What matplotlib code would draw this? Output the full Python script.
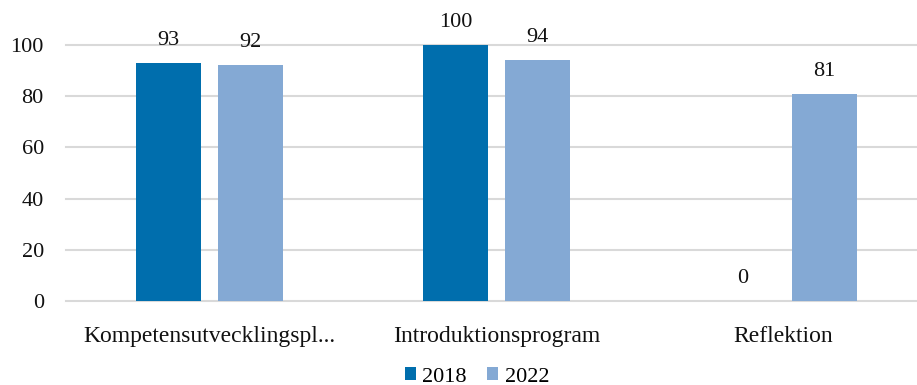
import matplotlib.pyplot as plt
from matplotlib.patches import Patch
import numpy as np

categories = ["Kompetensutvecklingspl...", "Introduktionsprogram", "Reflektion"]
years = ["2018", "2022"]
values_2018 = [93, 100, 0]
values_2022 = [92, 94, 81]

colors = ["#006EAD", "#84A9D4"]

plt.rcParams["font.family"] = ["Liberation Serif", "DejaVu Serif"]
plt.rcParams["font.size"] = 16

fig = plt.figure(figsize=(9.17, 3.85), dpi=100)
ax = fig.add_axes([66 / 917, 84 / 385, 851 / 917, 256 / 385])

x = np.arange(len(categories))
width = 0.2265
offset = 0.143

for series, off, color in zip([values_2018, values_2022], [-offset, offset], colors):
    bars = ax.bar(x + off, series, width=width, color=color, zorder=3)
    for rect, v in zip(bars, series):
        # value label above each bar
        ax.annotate(
            f"{v}",
            (rect.get_x() + rect.get_width() / 2, v),
            xytext=(0, 13),
            textcoords="offset points",
            ha="center",
            va="baseline",
            fontsize=16,
            color="#111111",
            annotation_clip=False,
        )

ax.set_xlim(-0.5, 2.5 - 10 / 287)
ax.set_ylim(0, 100)
ax.set_yticks([0, 20, 40, 60, 80, 100])
ax.set_xticks(x)
ax.set_xticklabels(categories, fontsize=17)
ax.tick_params(axis="both", length=0, colors="#111111")
ax.tick_params(axis="y", labelsize=16, pad=16)
ax.tick_params(axis="x", pad=18)

ax.grid(axis="y", color="#d9d9d9", linewidth=1.5, zorder=0)
for line in ax.get_ygridlines():
    line.set_clip_on(False)
for s in ax.spines.values():
    s.set_visible(False)

handles = [Patch(facecolor=c, edgecolor="none") for c in colors]
fig.legend(
    handles,
    years,
    loc="center",
    bbox_to_anchor=(477 / 917, 1 - 377 / 385),
    ncol=2,
    frameon=False,
    fontsize=16,
    handlelength=0.5,
    handleheight=0.5,
    handletextpad=0.3,
    columnspacing=0.9,
)

fig.savefig("out.png", dpi=100)
